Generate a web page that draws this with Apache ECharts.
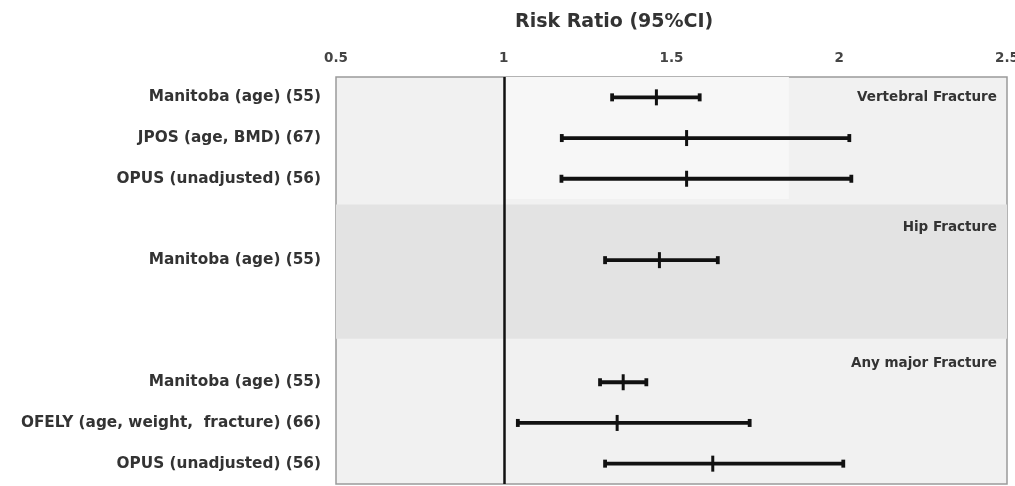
<!DOCTYPE html>
<html>
<head>
<meta charset="utf-8">
<script src="https://cdn.jsdelivr.net/npm/echarts@6/dist/echarts.min.js"></script>
<style>html,body{margin:0;padding:0;background:#fff}#c{width:1015px;height:486px}</style>
</head>
<body>
<div id="c"></div>
<script>
// Row labels (top to bottom); empty strings are spacer rows
var rowLabels = ['Manitoba (age) (55)', 'JPOS (age, BMD) (67)', 'OPUS (unadjusted) (56)', '', 'Manitoba (age) (55)', '', '', 'Manitoba (age) (55)', 'OFELY (age, weight,  fracture) (66)', 'OPUS (unadjusted) (56)'];
var rowIds = ['r0','r1','r2','r3','r4','r5','r6','r7','r8','r9'];
// Risk ratio point estimates and 95% CI bounds
var rr    = [1.455, 1.545, 1.545, null, 1.464, null, null, 1.356, 1.338, 1.623];
var lower = [1.323, 1.173, 1.172, null, 1.302, null, null, 1.287, 1.042, 1.302];
var upper = [1.584, 2.030, 2.036, null, 1.638, null, null, 1.425, 1.733, 2.012];
// Group headings and their vertical positions (row units)
var groupNames = ['Vertebral Fracture', 'Hip Fracture', 'Any major Fracture'];
var groupRows  = [0, 3.2, 6.55];
var tickLabels = ['0.5', '1', '1.5', '2', '2.5'];

var FONT = 'DejaVu Sans';
var data = [];
for (var i = 0; i < rowIds.length; i++) {
  if (rr[i] !== null) data.push([lower[i], rr[i], upper[i], i]);
}
var groupData = groupNames.map(function (n, i) { return [2.47, groupRows[i]]; });

var chart = echarts.init(document.getElementById('c'), null, {renderer: 'canvas'});
chart.setOption({
  animation: false,
  backgroundColor: '#ffffff',
  title: {
    text: 'Risk Ratio (95%CI)', left: 510, top: 8,
    textStyle: {fontFamily: FONT, fontWeight: 'bold', fontSize: 19, color: '#333'}
  },
  grid: {left: 336, right: 8, top: 77, bottom: 2, outerBoundsMode: 'none', containLabel: false,
    show: true, backgroundColor: '#f1f1f1', borderColor: '#9a9a9a', borderWidth: 1.5},
  xAxis: {
    type: 'value', position: 'top', min: 0.5, max: 2.5, interval: 0.5,
    axisLine: {show: false}, axisTick: {show: false}, splitLine: {show: false},
    axisLabel: {margin: 12, fontFamily: FONT, fontWeight: 'bold', fontSize: 13.5, color: '#444',
      formatter: function (v) { var k = Math.round((v - 0.5) / 0.5); return tickLabels[k] || ''; }}
  },
  yAxis: [{
    type: 'category', data: rowIds, inverse: true,
    axisLine: {show: false}, axisTick: {show: false}, splitLine: {show: false},
    axisLabel: {margin: 15, fontFamily: FONT, fontWeight: 'bold', fontSize: 15.3, color: '#333',
      formatter: function (v) { return rowLabels[rowIds.indexOf(v)]; }}
  }, {
    type: 'value', min: -0.5, max: 9.5, inverse: true, show: false
  }],
  series: [{
    type: 'custom', yAxisIndex: 1, silent: true, z: 1,
    data: [[1, 0]],
    renderItem: function (params, api) {
      var cs = params.coordSys;
      var p1 = api.coord([0.5, 2.63]);
      var p2 = api.coord([0.5, 5.93]);
      var q1 = api.coord([1.0, -0.5]);
      var q2 = api.coord([1.85, 2.5]);
      return {type: 'group', children: [
        {type: 'rect', shape: {x: cs.x, y: p1[1], width: cs.width, height: p2[1] - p1[1]}, style: {fill: '#e3e3e3'}},
        {type: 'rect', shape: {x: q1[0], y: q1[1], width: q2[0] - q1[0], height: q2[1] - q1[1]}, style: {fill: '#f7f7f7'}}
      ]};
    }
  }, {
    type: 'line', yAxisIndex: 1, data: [], z: 4,
    markLine: {
      silent: true, symbol: 'none', label: {show: false},
      lineStyle: {color: '#111', width: 2.5, type: 'solid'},
      data: [{xAxis: 1}]
    }
  }, {
    type: 'custom', yAxisIndex: 1, z: 5,
    data: data,
    renderItem: function (params, api) {
      var y = api.coord([1, api.value(3)])[1];
      var xl = api.coord([api.value(0), 0])[0];
      var xm = api.coord([api.value(1), 0])[0];
      var xh = api.coord([api.value(2), 0])[0];
      var st = {stroke: '#111', lineWidth: 3.8};
      return {type: 'group', children: [
        {type: 'line', shape: {x1: xl, y1: y, x2: xh, y2: y}, style: st},
        {type: 'line', shape: {x1: xl, y1: y - 4, x2: xl, y2: y + 4}, style: st},
        {type: 'line', shape: {x1: xh, y1: y - 4, x2: xh, y2: y + 4}, style: st},
        {type: 'line', shape: {x1: xm, y1: y - 8, x2: xm, y2: y + 8}, style: {stroke: '#111', lineWidth: 3}}
      ]};
    }
  }, {
    type: 'custom', yAxisIndex: 1, z: 6, silent: true,
    data: groupData,
    renderItem: function (params, api) {
      var p = api.coord([api.value(0), api.value(1)]);
      return {type: 'text', x: p[0], y: p[1], style: {
        text: groupNames[params.dataIndex], align: 'right', verticalAlign: 'middle',
        font: 'bold 13.5px "DejaVu Sans"', fill: '#333'}};
    }
  }]
});
</script>
</body>
</html>
